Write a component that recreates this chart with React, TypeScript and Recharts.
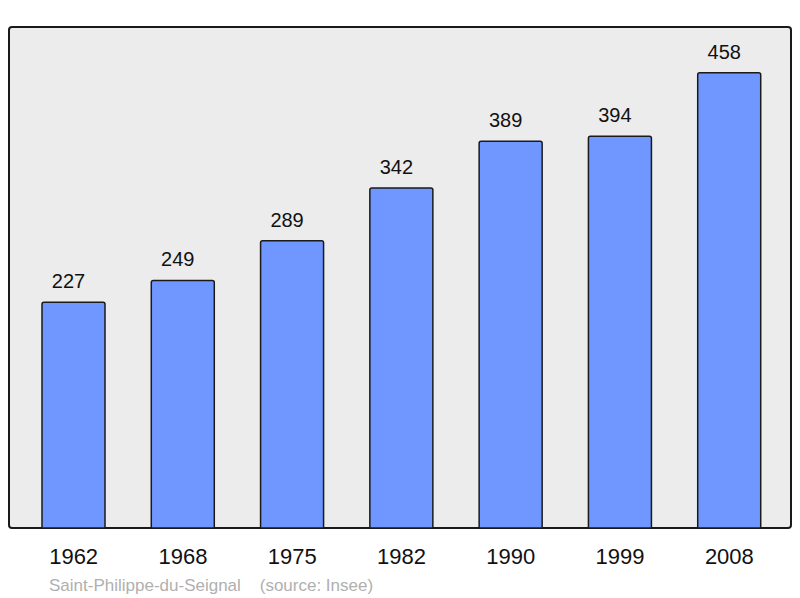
import React from 'react';
import { BarChart, Bar, XAxis, YAxis, LabelList } from 'recharts';

const years = ['1962', '1968', '1975', '1982', '1990', '1999', '2008'];
const population = [227, 249, 289, 342, 389, 394, 458];
const commune = 'Saint-Philippe-du-Seignal';
const source = '(source: Insee)';

const data = years.map((y, i) => ({ year: y, pop: population[i] }));

const renderLabel = (props: any) => {
  const { x, y, width, value } = props;
  return (
    <text x={Number(x) + Number(width) / 2 - 5} y={Number(y) - 14} textAnchor="middle" fill="#111" fontSize={20} fontFamily='"Liberation Sans", Arial, sans-serif'>
      {value}
    </text>
  );
};

export default function App() {
  return (
    <div style={{ position: 'absolute', left: 0, top: 0, width: 800, height: 598, background: '#fff', fontFamily: '"Liberation Sans", Arial, sans-serif' }}>
      <div style={{ position: 'absolute', left: 8, top: 26, width: 784, height: 503, background: '#ececec', border: '2px solid #1a1a1a', borderRadius: 4, boxSizing: 'border-box' as const }} />
      <div style={{ position: 'absolute', left: 0, top: 0 }}>
        <BarChart width={800} height={598} data={data} margin={{ top: 27, right: 9, left: 9, bottom: 40 }}>
          <XAxis dataKey="year" height={30} axisLine={false} tickLine={false} tickSize={0} tickMargin={20} padding={{ left: 10, right: 7 }} tick={{ fill: '#111', fontSize: 22, fontFamily: '"Liberation Sans", Arial, sans-serif' }} interval={0} />
          <YAxis hide domain={[0, 504]} />
          <Bar dataKey="pop" fill="#7096ff" stroke="#1a1a1a" strokeWidth={1.5} barSize={63} radius={[2, 2, 0, 0]} isAnimationActive={false}>
            <LabelList dataKey="pop" content={renderLabel} />
          </Bar>
        </BarChart>
      </div>
      <div style={{ position: 'absolute', left: 49, top: 576, fontSize: 17, color: '#b0b0b0', whiteSpace: 'pre' }}>
        {commune + '    ' + source}
      </div>
    </div>
  );
}
